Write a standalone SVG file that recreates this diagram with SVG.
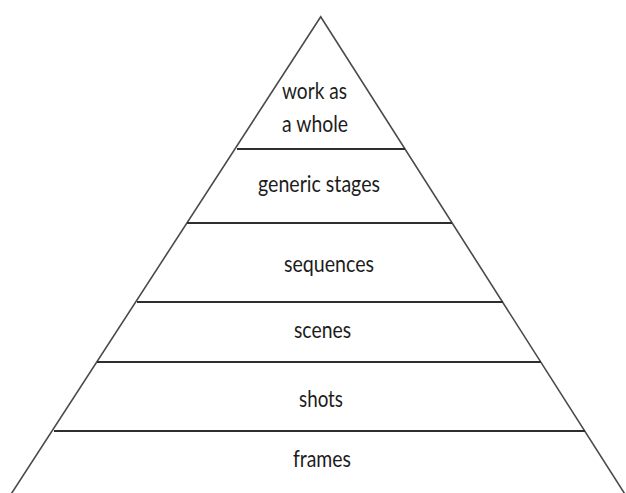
<svg xmlns="http://www.w3.org/2000/svg" width="626" height="493" viewBox="0 0 626 493">
  <style>
    .side { stroke: #4a4a4a; stroke-width: 1.6; fill: none; stroke-linecap: round; }
    .tier { stroke: #2e2e2e; stroke-width: 2; fill: none; }
    .label { font-family: Lato, "Open Sans", sans-serif; font-size: 22.5px; fill: #1c1c1c; }
  </style>
  <rect width="626" height="493" fill="#ffffff"/>

  <!-- pyramid outline and tier dividers -->
  <g id="connectors">
    <path class="side" d="M10.5,495 L320.7,16.7 L625.5,495"/>
    <line class="tier" x1="237" y1="149" x2="405" y2="149"/>
    <line class="tier" x1="187" y1="223" x2="452" y2="223"/>
    <line class="tier" x1="137" y1="302" x2="503" y2="302"/>
    <line class="tier" x1="97" y1="362" x2="541" y2="362"/>
    <line class="tier" x1="54" y1="431" x2="585" y2="431"/>
  </g>

  <g id="tier-work">
    <text class="label" x="282" y="99" textLength="65" lengthAdjust="spacingAndGlyphs">work as</text>
    <text class="label" x="282" y="132" textLength="66" lengthAdjust="spacingAndGlyphs">a whole</text>
  </g>
  <g id="tier-stages">
    <text class="label" x="258" y="192" textLength="122" lengthAdjust="spacingAndGlyphs">generic stages</text>
  </g>
  <g id="tier-sequences">
    <text class="label" x="284" y="272" textLength="90" lengthAdjust="spacingAndGlyphs">sequences</text>
  </g>
  <g id="tier-scenes">
    <text class="label" x="294" y="338" textLength="57" lengthAdjust="spacingAndGlyphs">scenes</text>
  </g>
  <g id="tier-shots">
    <text class="label" x="299" y="407" textLength="44" lengthAdjust="spacingAndGlyphs">shots</text>
  </g>
  <g id="tier-frames">
    <text class="label" x="293" y="467" textLength="58" lengthAdjust="spacingAndGlyphs">frames</text>
  </g>
</svg>
